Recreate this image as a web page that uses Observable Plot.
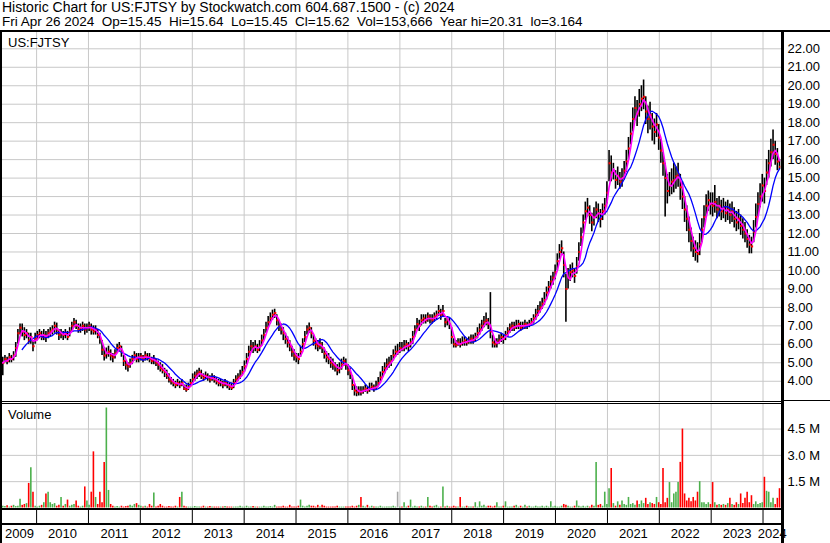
<!DOCTYPE html>
<html><head><meta charset="utf-8">
<script src="https://cdn.jsdelivr.net/npm/d3@7"></script>
<script src="https://cdn.jsdelivr.net/npm/@observablehq/plot@0.6"></script>
<style>
html,body{margin:0;padding:0;background:#fff;}
#wrap{position:relative;width:830px;height:543px;overflow:hidden;font-family:Arial,"Liberation Sans",sans-serif;color:#000;}
.txt{position:absolute;font-size:13px;line-height:15px;white-space:pre;}
.ln{position:absolute;background:#000;}
.panel{position:absolute;left:0;}
.panel svg{display:block;overflow:visible;}
</style></head><body>
<div id="wrap"></div>
<script>
// ---------- data (semi-monthly samples) ----------
const titleLine1 = "Historic Chart for US:FJTSY by Stockwatch.com 604.687.1500 - (c) 2024";
const titleLine2 = "Fri Apr 26 2024  Op=15.45  Hi=15.64  Lo=15.45  Cl=15.62  Vol=153,666  Year hi=20.31  lo=3.164";
const symbolLabel = "US:FJTSY";
const volumeLabel = "Volume";
const years = [2009,2010,2011,2012,2013,2014,2015,2016,2017,2018,2019,2020,2021,2022,2023,2024];
const priceTicks = [4,5,6,7,8,9,10,11,12,13,14,15,16,17,18,19,20,21,22];
const volTicks = [1.5,3.0,4.5];
const firstDate = "2009-05-08", lastDate = "2024-04-26";
const viewStart = "2009-05-06", viewEnd = "2024-05-10";

const close = [
5.0,5.2,5.1,5.3,5.2,5.4,5.8,6.6,6.9,6.7,6.5,6.6,
6.2,6.4,5.9,6.3,6.5,6.6,6.4,6.5,6.4,6.6,6.7,6.8,
7.0,6.8,6.5,6.6,6.5,6.6,6.4,6.7,7.0,7.2,7.0,6.8,
6.9,7.0,6.8,6.9,7.0,6.8,6.7,6.8,6.5,6.3,5.7,5.4,
5.5,5.6,5.4,5.3,5.5,5.8,5.9,5.6,5.1,4.9,4.8,5.0,
5.2,5.4,5.2,5.3,5.35,5.2,5.4,5.3,5.2,5.1,5.2,5.0,
4.9,4.7,4.6,4.5,4.3,4.1,4.0,3.9,3.8,3.9,3.8,3.9,
3.6,3.55,3.7,3.9,4.1,4.3,4.4,4.5,4.3,4.2,4.3,4.2,
4.1,4.2,4.1,4.0,3.9,3.95,3.8,3.9,3.8,3.7,3.65,3.9,
4.1,4.2,4.3,4.5,4.8,5.2,5.6,5.9,5.8,5.9,5.7,5.9,
6.2,6.5,6.9,7.2,7.4,7.6,7.7,7.3,7.0,6.8,6.6,6.3,
6.1,5.9,5.6,5.4,5.3,5.2,5.6,6.0,6.4,6.8,6.9,6.6,
6.2,6.0,5.9,6.0,5.8,5.5,5.3,5.2,5.0,4.9,4.8,4.6,
4.7,4.9,5.1,4.9,4.6,4.4,3.8,3.5,3.4,3.5,3.4,3.5,
3.6,3.5,3.6,3.7,3.6,3.7,3.9,4.2,4.5,4.7,4.9,5.0,
5.1,5.4,5.6,5.6,5.8,5.75,5.9,6.0,5.9,6.1,6.4,6.8,
7.1,7.0,7.3,7.4,7.3,7.5,7.4,7.3,7.5,7.6,7.8,7.6,
7.8,7.2,7.3,7.1,6.4,6.0,5.95,6.1,6.0,6.1,6.2,6.1,
6.2,6.3,6.2,6.4,6.6,6.8,7.0,7.2,7.3,7.1,6.7,6.1,
6.0,6.1,6.2,6.4,6.3,6.5,6.7,6.9,7.0,6.9,7.0,7.1,
6.9,7.0,7.1,7.0,7.1,7.2,7.4,7.6,7.8,8.0,8.2,8.4,
8.8,9.1,9.4,9.6,9.9,10.5,11.0,11.2,10.3,9.0,9.6,9.9,
10.0,9.7,10.2,11.0,11.8,12.6,13.2,13.4,13.0,12.6,12.9,13.3,
13.1,12.8,13.2,13.5,14.2,15.8,15.3,15.4,14.9,15.1,14.8,15.0,
15.4,15.9,16.6,17.4,18.2,18.8,18.5,19.0,19.3,19.4,18.6,18.2,
18.4,17.8,17.5,17.9,17.2,16.5,15.8,15.0,14.3,14.6,14.8,14.9,
15.1,15.2,14.5,14.0,13.3,12.8,12.2,11.6,11.2,11.0,10.9,11.4,
12.2,12.9,13.5,13.8,13.6,13.5,13.7,13.3,13.5,13.2,13.4,13.1,
13.3,13.0,13.2,12.8,12.6,12.8,12.4,12.2,12.0,11.7,11.4,11.3,
12.1,12.9,13.6,14.0,14.6,14.3,15.3,15.8,16.4,16.8,16.3,15.9,
15.62];

const hi = [
5.3,5.4,5.3,5.5,5.4,5.6,6.1,6.8,7.1,7.1,6.9,6.8,
6.6,6.6,6.2,6.6,6.7,6.8,6.7,6.8,6.7,6.8,6.9,7.0,
7.2,7.15,6.8,6.8,6.7,6.8,6.7,6.9,7.2,7.4,7.3,7.1,
7.1,7.2,7.1,7.1,7.2,7.1,7.0,7.0,6.8,6.6,6.2,5.8,
5.8,5.9,5.7,5.5,5.7,6.0,6.1,5.9,5.4,5.1,5.0,5.2,
5.4,5.6,5.5,5.5,5.5,5.4,5.6,5.5,5.5,5.3,5.4,5.2,
5.1,5.0,4.9,4.7,4.6,4.4,4.2,4.1,4.0,4.1,4.0,4.1,
3.8,3.8,3.9,4.1,4.4,4.5,4.6,4.7,4.6,4.4,4.5,4.4,
4.3,4.4,4.3,4.2,4.1,4.1,4.0,4.1,4.0,3.9,3.9,4.1,
4.3,4.4,4.6,4.8,5.1,5.5,5.9,6.2,6.1,6.2,6.0,6.2,
6.5,6.8,7.2,7.5,7.7,7.85,7.9,7.6,7.3,7.1,6.9,6.6,
6.4,6.2,5.9,5.7,5.5,5.5,5.9,6.3,6.7,7.0,7.15,6.9,
6.5,6.3,6.2,6.3,6.1,5.8,5.6,5.5,5.3,5.2,5.0,4.9,
5.0,5.2,5.3,5.2,4.9,4.7,4.3,3.8,3.7,3.7,3.7,3.7,
3.8,3.7,3.9,3.9,3.8,4.0,4.2,4.5,4.8,5.0,5.2,5.3,
5.4,5.7,5.9,6.0,6.1,6.1,6.2,6.2,6.1,6.3,6.7,7.0,
7.4,7.3,7.6,7.6,7.6,7.7,7.6,7.6,7.7,7.8,8.1,7.9,
8.1,7.4,7.5,7.4,6.9,6.3,6.2,6.3,6.3,6.4,6.4,6.3,
6.4,6.5,6.5,6.6,6.9,7.1,7.3,7.5,7.7,7.4,8.8,6.5,
6.3,6.3,6.5,6.6,6.5,6.7,6.9,7.1,7.2,7.2,7.3,7.3,
7.2,7.2,7.3,7.2,7.3,7.4,7.6,7.9,8.1,8.3,8.5,8.8,
9.1,9.4,9.7,9.9,10.3,10.9,11.4,11.6,11.0,9.8,10.1,10.3,
10.4,10.1,10.7,11.5,12.3,13.0,13.7,13.9,13.5,13.1,13.4,13.7,
13.6,13.3,13.6,13.9,14.8,16.5,16.2,15.8,15.4,15.6,15.3,15.5,
15.9,16.5,17.2,18.0,18.8,19.4,19.2,19.8,20.0,20.31,19.4,18.9,
19.1,18.5,18.2,18.5,17.9,17.1,16.4,15.8,15.2,15.3,15.5,15.8,
15.6,15.8,15.2,14.8,14.0,13.5,12.9,12.3,11.8,11.6,11.5,12.0,
12.8,13.5,14.1,14.3,14.2,14.2,14.6,13.9,14.0,13.8,13.9,13.7,
13.8,13.6,13.7,13.4,13.2,13.3,13.0,12.8,12.6,12.2,11.9,11.8,
12.7,13.6,14.2,14.7,15.2,15.0,16.0,16.5,17.1,17.6,17.0,16.6,
16.0];

const lo = [
4.3,5.0,4.9,5.0,5.0,5.1,5.3,6.0,6.5,6.4,6.2,6.3,
6.0,6.0,5.6,6.0,6.2,6.3,6.2,6.2,6.1,6.3,6.4,6.5,
6.6,6.5,6.2,6.3,6.2,6.3,6.2,6.4,6.7,6.9,6.8,6.6,
6.6,6.7,6.5,6.6,6.7,6.5,6.5,6.5,6.3,6.0,5.4,5.1,
5.2,5.3,5.1,5.0,5.2,5.5,5.6,5.3,4.8,4.6,4.5,4.7,
4.9,5.1,5.0,5.0,5.1,5.0,5.1,5.1,5.0,4.9,4.9,4.8,
4.6,4.5,4.4,4.2,4.1,3.9,3.8,3.7,3.6,3.7,3.6,3.7,
3.5,3.4,3.5,3.7,3.9,4.0,4.1,4.2,4.1,4.0,4.1,4.0,
3.9,4.0,3.9,3.8,3.7,3.7,3.6,3.7,3.6,3.5,3.5,3.6,
3.9,4.0,4.1,4.3,4.5,4.9,5.3,5.6,5.5,5.6,5.5,5.6,
5.9,6.2,6.6,6.9,7.1,7.3,7.4,7.0,6.7,6.5,6.2,6.0,
5.8,5.6,5.3,5.1,5.0,4.9,5.3,5.7,6.1,6.5,6.6,6.3,
5.9,5.7,5.6,5.7,5.5,5.2,5.0,4.9,4.7,4.6,4.5,4.3,
4.4,4.6,4.8,4.6,4.3,4.1,3.5,3.2,3.164,3.2,3.2,3.3,
3.4,3.3,3.4,3.5,3.4,3.5,3.7,3.9,4.2,4.4,4.6,4.7,
4.8,5.1,5.3,5.4,5.5,5.6,5.6,5.7,5.6,5.8,6.0,6.4,
6.8,6.7,7.0,7.1,7.1,7.2,7.1,7.1,7.2,7.3,7.5,7.3,
7.5,6.9,7.0,6.8,6.0,5.8,5.8,5.9,5.8,5.9,5.9,5.9,
6.0,6.0,6.0,6.1,6.3,6.5,6.7,6.9,7.0,6.8,6.3,5.8,
5.8,5.8,6.0,6.1,6.0,6.2,6.4,6.6,6.7,6.7,6.8,6.8,
6.7,6.8,6.8,6.8,6.9,7.0,7.1,7.3,7.5,7.7,7.9,8.1,
8.4,8.8,9.0,9.2,9.5,10.0,10.6,10.8,9.6,7.2,9.0,9.4,
9.6,9.3,9.8,10.5,11.3,12.0,12.7,12.9,12.5,12.1,12.4,12.8,
12.6,12.3,12.7,13.0,13.6,14.8,14.8,14.9,14.4,14.6,14.4,14.5,
14.9,15.3,16.0,16.8,17.5,18.1,17.8,18.3,18.6,18.7,17.9,17.4,
17.6,17.0,16.8,17.2,16.5,15.8,15.1,12.9,13.6,14.0,14.1,14.2,
14.4,14.5,13.8,13.3,12.6,12.1,11.5,11.0,10.7,10.5,10.4,10.8,
11.5,12.3,12.9,13.2,13.0,12.9,13.1,12.8,12.9,12.7,12.8,12.6,
12.7,12.5,12.6,12.3,12.1,12.2,11.9,11.7,11.5,11.2,10.9,10.9,
11.5,12.3,12.9,13.4,13.7,13.6,14.6,15.0,15.6,16.0,15.7,15.4,
15.45];

// volume in millions of shares
const vol = [
0.10,0.08,0.12,0.05,0.10,0.15,0.08,0.10,0.5,0.15,0.2,0.25,
1.4,2.3,0.9,0.1,0.05,0.1,0.15,0.3,0.8,0.9,0.3,0.2,
0.25,0.1,0.15,0.6,0.1,0.2,0.45,0.1,0.15,0.2,0.4,0.1,
0.05,0.1,1.2,0.4,0.15,0.9,3.2,0.6,0.2,0.9,0.3,2.6,
5.7,1.0,0.2,0.1,0.05,0.08,0.05,0.1,0.05,0.08,0.1,0.15,
0.1,0.2,0.25,0.15,0.1,0.05,0.1,0.05,0.2,0.1,0.85,0.05,
0.1,0.2,0.1,0.05,0.05,0.08,0.05,0.05,0.1,0.05,0.6,0.9,
0.1,0.05,0.05,0.05,0.05,0.08,0.05,0.05,0.05,0.1,0.05,0.05,
0.08,0.05,0.05,0.05,0.05,0.05,0.05,0.08,0.05,0.05,0.05,0.05,
0.05,0.05,0.1,0.05,0.05,0.1,0.05,0.05,0.08,0.05,0.05,0.05,
0.05,0.1,0.05,0.05,0.08,0.05,0.15,0.05,0.05,0.05,0.1,0.05,
0.05,0.15,0.05,0.05,0.05,0.1,0.45,0.1,0.05,0.1,0.15,0.1,
0.1,0.05,0.15,0.05,0.15,0.1,0.05,0.05,0.05,0.05,0.05,0.1,
0.05,0.05,0.05,0.05,0.05,0.05,0.1,0.05,0.1,0.15,0.6,0.1,
0.05,0.15,0.05,0.1,0.05,0.05,0.05,0.1,0.05,0.05,0.05,0.05,
0.05,0.1,0.05,0.9,0.05,0.05,0.3,0.05,0.1,0.45,0.05,0.1,
0.05,0.05,0.1,0.05,0.05,0.6,0.1,0.05,0.1,0.15,0.05,0.05,
1.2,0.05,0.1,0.05,0.05,0.1,0.05,0.05,0.6,0.05,0.05,0.1,
0.05,0.05,0.05,0.3,0.05,0.35,0.1,0.15,0.05,0.1,0.1,0.05,
0.1,0.3,0.05,0.05,0.1,0.35,0.05,0.05,0.05,0.1,0.15,0.05,
0.1,0.05,0.15,0.05,0.1,0.05,0.05,0.1,0.05,0.05,0.1,0.05,
0.1,0.05,0.35,0.05,0.1,0.05,0.05,0.1,0.2,0.15,0.1,0.05,
0.05,0.1,0.4,0.1,0.05,0.1,0.05,0.1,0.05,0.15,0.1,2.6,
0.15,0.2,0.1,0.9,0.2,1.1,2.25,0.25,0.1,0.35,0.15,0.4,
0.2,0.15,0.6,0.2,0.25,0.15,0.4,0.2,0.4,0.25,0.55,0.2,
0.3,0.25,0.2,0.6,0.3,0.2,2.25,0.3,0.55,1.45,0.3,0.8,
0.9,1.45,2.6,4.5,0.8,0.4,0.55,0.35,0.6,0.4,0.9,1.5,
0.3,0.3,0.2,0.3,0.2,1.45,0.3,0.15,0.2,0.15,0.2,0.15,
0.25,0.55,0.2,0.15,0.3,0.2,0.8,0.25,0.55,0.9,0.3,0.7,
0.2,0.35,0.2,0.25,0.3,1.75,0.95,0.9,0.3,0.55,0.2,0.55,
1.1];

// ---------- build ----------
const t0 = new Date(firstDate + "T00:00:00Z"), t1 = new Date(lastDate + "T00:00:00Z");
const n = close.length;
const step = (t1 - t0) / (n - 1);
const data = close.map((c, i) => ({
  date: new Date(+t0 + i * step),
  close: c, prev: i === 0 ? c : close[i - 1], hi: hi[i], lo: lo[i], vol: vol[i],
  dir: i === 0 ? 1 : Math.sign(c - close[i - 1])
}));
const xDomain = [new Date(viewStart + "T00:00:00Z"), new Date(viewEnd + "T00:00:00Z")];
const yearStarts = years.slice(1).map(y => new Date(Date.UTC(y, 0, 1)));
const yearLabels = years.map(y => {
  const a = Math.max(+xDomain[0], Date.UTC(y, 0, 1));
  const b = Math.min(+xDomain[1], Date.UTC(y + 1, 0, 1));
  return {year: String(y), mid: new Date((a + b) / 2)};
});

const FONT = "Arial, 'Liberation Sans', sans-serif";
const GRID = "#c8c8c8";
const wrap = document.getElementById("wrap");

function addDiv(cls, css, text) {
  const d = document.createElement("div");
  d.className = cls;
  d.style.cssText = css;
  if (text != null) d.textContent = text;
  wrap.appendChild(d);
  return d;
}
function addPanel(svg, top) {
  const d = addDiv("panel", `top:${top}px;`);
  d.appendChild(svg);
}

// header
addDiv("txt", "left:2px;top:0px;font-size:14px;line-height:14px;", titleLine1);
addDiv("txt", "left:2px;top:15px;font-size:13.5px;line-height:14px;", titleLine2);

// price panel
const pricePlot = Plot.plot({
  width: 830, height: 369,
  marginLeft: 2, marginRight: 49, marginTop: 0, marginBottom: 0,
  x: {type: "utc", domain: xDomain, axis: null},
  y: {domain: [2.904, 22.883]},
  style: {fontFamily: FONT, fontSize: "13px", color: "#000", background: "transparent", overflow: "visible"},
  marks: [
    Plot.gridX(yearStarts, {stroke: GRID, strokeOpacity: 1}),
    Plot.gridY(priceTicks, {stroke: GRID, strokeOpacity: 1}),
    Plot.axisY(priceTicks, {anchor: "right", label: null, tickSize: 0, tickPadding: 6, tickFormat: d => d.toFixed(2), fill: "#000", fontSize: 13}),
    Plot.ruleX(data, {x: "date", y1: "lo", y2: "hi", stroke: "#000", strokeWidth: 1.6}),
    Plot.ruleY(data, {y: "prev", x1: d => d3.utcDay.offset(d.date, -9), x2: "date", stroke: "#ff0000", strokeWidth: 2}),
    Plot.ruleY(data, {y: "close", x1: "date", x2: d => d3.utcDay.offset(d.date, 9), stroke: "#ff0000", strokeWidth: 2}),
    Plot.lineY(data, Plot.windowY({k: 10, anchor: "end", strict: true}, {x: "date", y: "close", stroke: "#0000ff", strokeWidth: 1.3})),
    Plot.lineY(data, Plot.windowY({k: 3, anchor: "end"}, {x: "date", y: "close", stroke: "#ff00ff", strokeWidth: 1.6}))
  ]
});
addPanel(pricePlot, 32);

// volume panel
const volPlot = Plot.plot({
  width: 830, height: 104,
  marginLeft: 2, marginRight: 49, marginTop: 0, marginBottom: 0,
  x: {type: "utc", domain: xDomain, axis: null},
  y: {domain: [-0.03, 5.9]},
  color: {type: "identity"},
  style: {fontFamily: FONT, fontSize: "13px", color: "#000", background: "transparent", overflow: "visible"},
  marks: [
    Plot.gridX(yearStarts, {stroke: GRID, strokeOpacity: 1}),
    Plot.gridY(volTicks, {stroke: GRID, strokeOpacity: 1}),
    Plot.axisY(volTicks, {anchor: "right", label: null, tickSize: 0, tickPadding: 6, tickFormat: d => d.toFixed(1) + " M", fill: "#000", fontSize: 13}),
    Plot.ruleX(data, {x: "date", y1: 0, y2: "vol", strokeWidth: 1.6,
      stroke: d => d.dir > 0 ? "#4cb04c" : d.dir < 0 ? "#ff0000" : "#a8a8a8"})
  ]
});
addPanel(volPlot, 404);

// time axis panel
const axisPlot = Plot.plot({
  width: 830, height: 34,
  marginLeft: 2, marginRight: 49, marginTop: 0, marginBottom: 18,
  x: {type: "utc", domain: xDomain, axis: null},
  style: {fontFamily: FONT, fontSize: "13px", color: "#000", background: "transparent", overflow: "visible"},
  marks: [
    Plot.ruleX(yearStarts, {stroke: "#000", strokeWidth: 1}),
    Plot.text(yearLabels, {x: "mid", text: "year", frameAnchor: "bottom", lineAnchor: "top", dy: 3, fill: "#000", fontSize: 13})
  ]
});
addPanel(axisPlot, 509);

// frame lines
addDiv("ln", "left:0;top:30px;width:830px;height:2px;");
addDiv("ln", "left:0;top:30px;width:2px;height:513px;");
addDiv("ln", "left:781px;top:30px;width:3px;height:513px;");
addDiv("ln", "left:0;top:401px;width:781px;height:1px;");
addDiv("ln", "left:0;top:403px;width:781px;height:1px;");
addDiv("ln", "left:784px;top:400px;width:46px;height:1px;");
addDiv("ln", "left:0;top:508px;width:781px;height:1.5px;");
addDiv("ln", "left:0;top:523px;width:781px;height:2px;");

// panel labels
addDiv("txt", "left:8px;top:35px;", symbolLabel);
addDiv("txt", "left:8px;top:407px;", volumeLabel);
</script>
</body></html>
